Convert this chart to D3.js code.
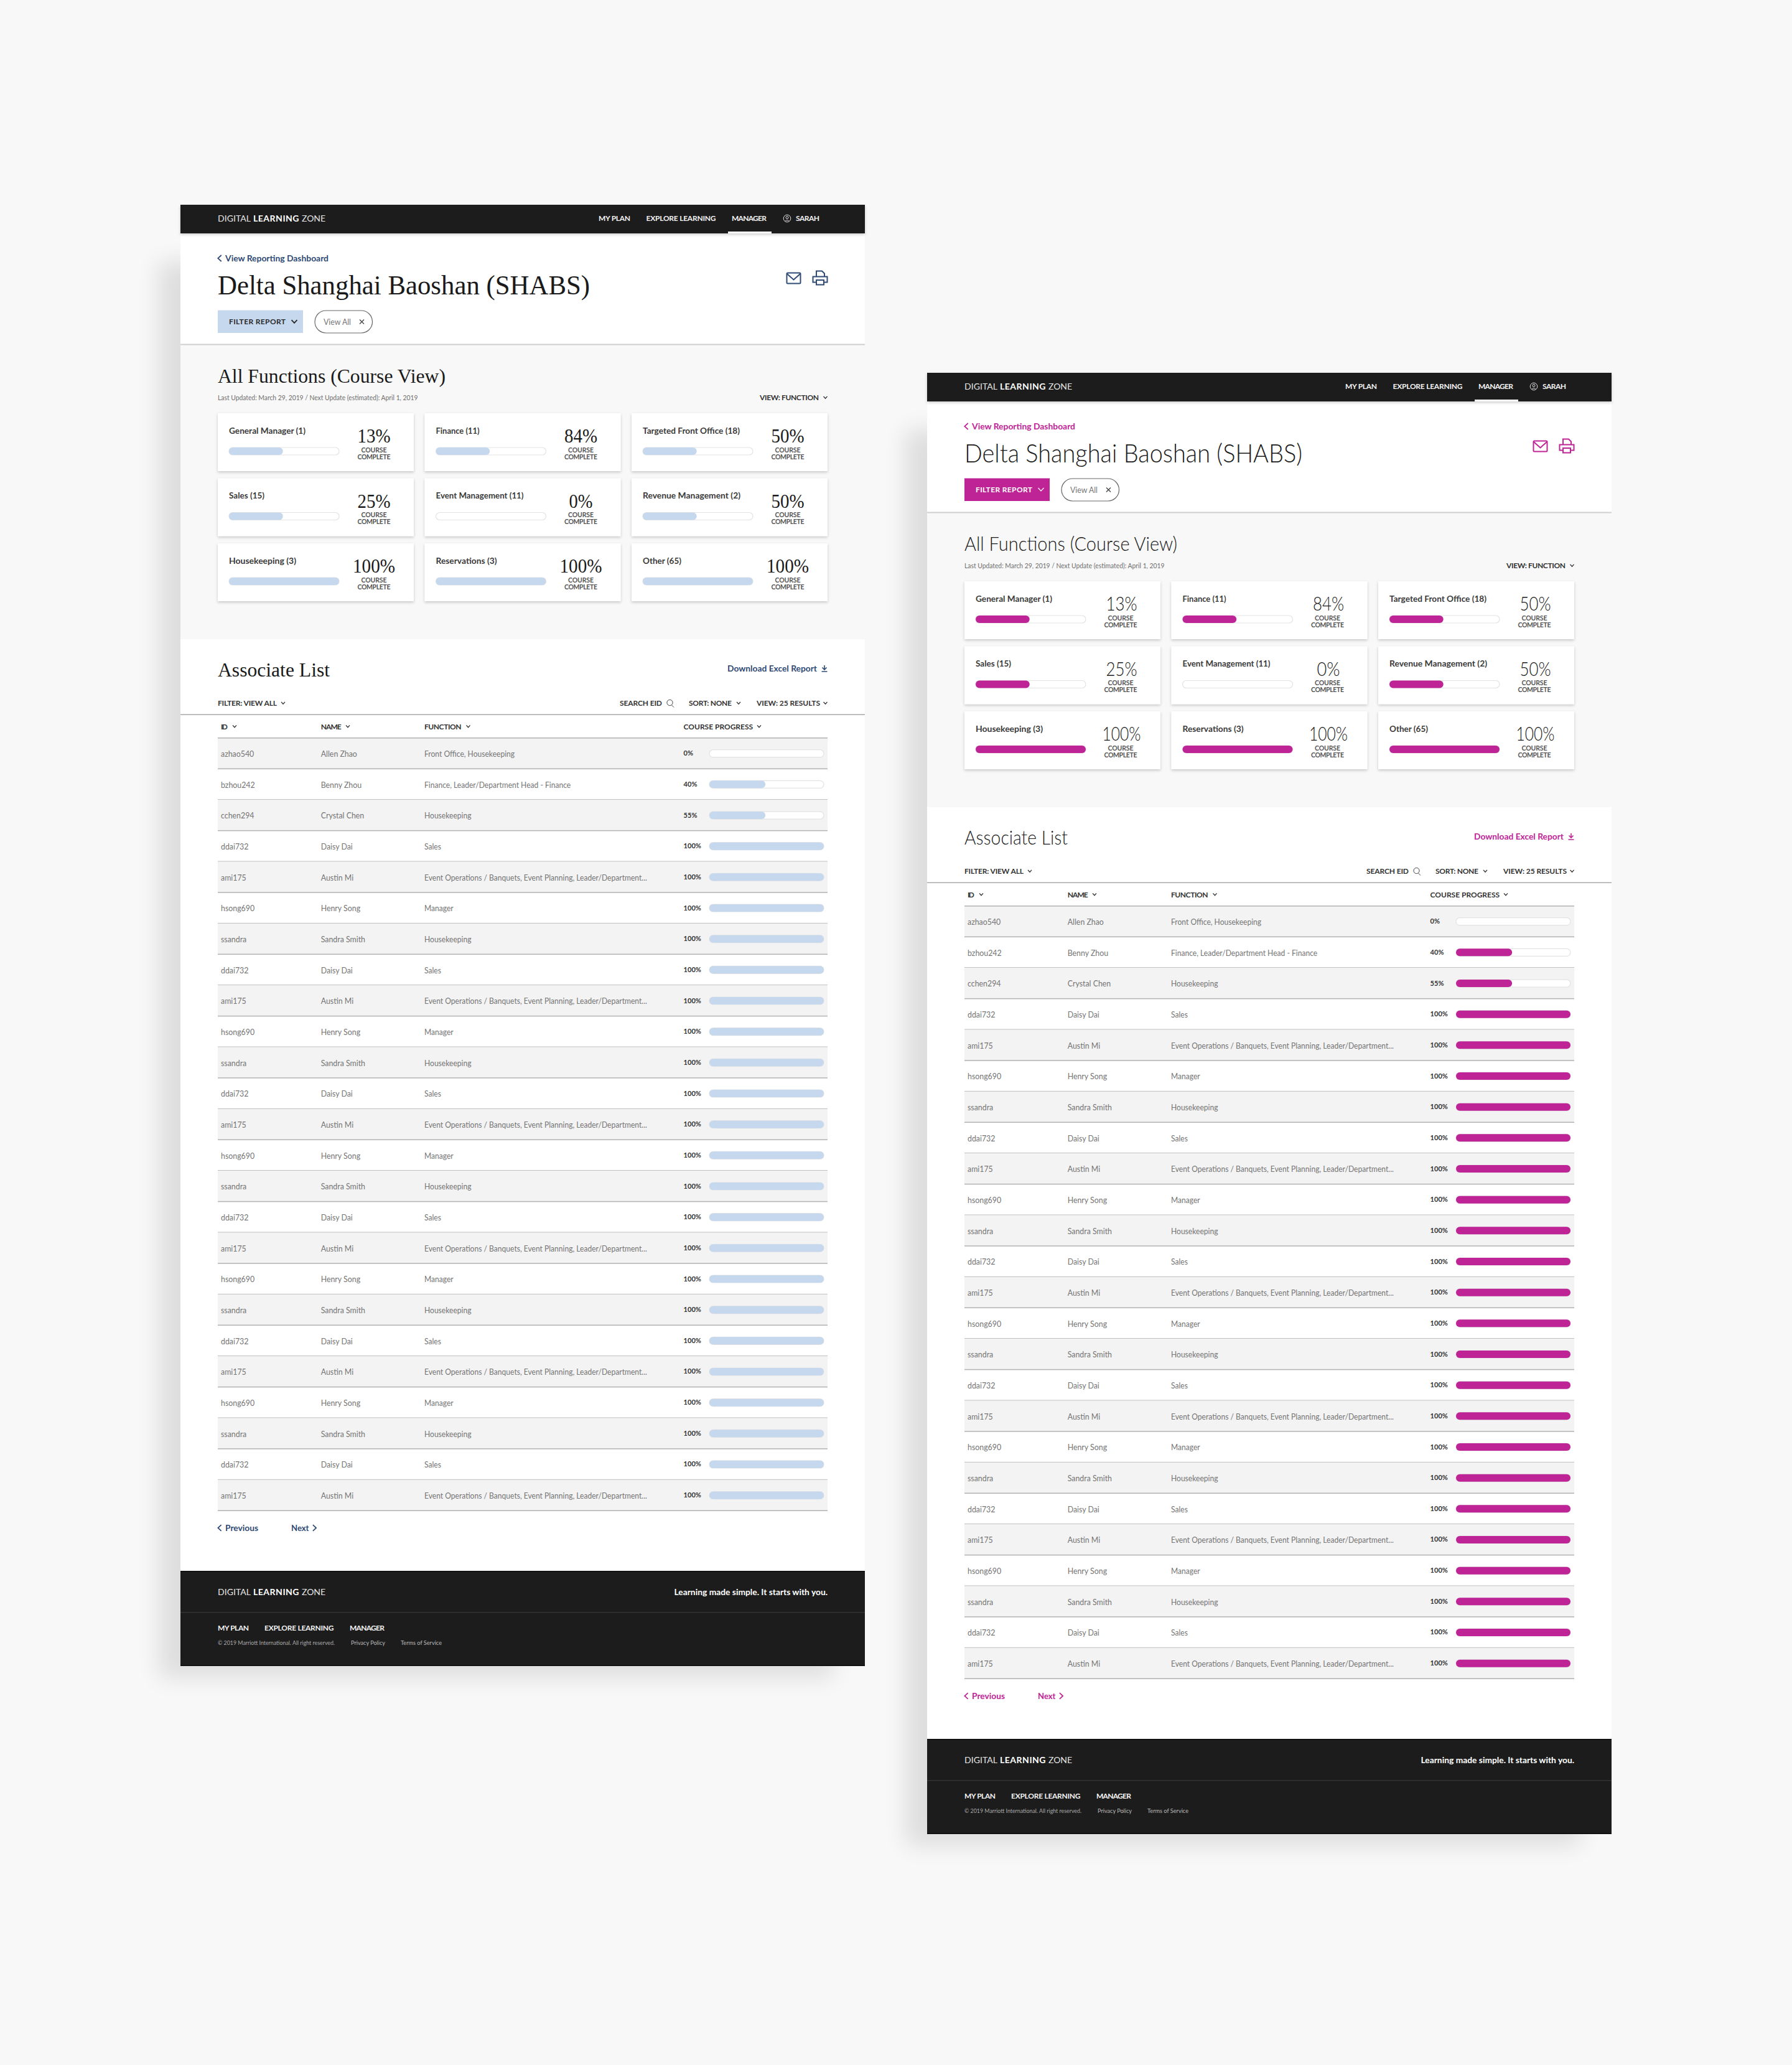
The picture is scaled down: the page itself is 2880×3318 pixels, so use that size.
<!DOCTYPE html>
<html><head><meta charset="utf-8">
<script src="https://cdn.jsdelivr.net/npm/d3@7"></script>
<style>html,body{margin:0;padding:0;background:#f8f8f8}svg{display:block}</style>
</head><body><div id="chart"></div>
<script>
const cardLabels = ["General Manager (1)","Finance (11)","Targeted Front Office (18)","Sales (15)","Event Management (11)","Revenue Management (2)","Housekeeping (3)","Reservations (3)","Other (65)"];
const cardPercents = [13,84,50,25,0,50,100,100,100];
const cardBarValues = [49,49,49,49,0,49,100,100,100];
const rowIds = ["azhao540","bzhou242","cchen294","ddai732","ami175","hsong690","ssandra","ddai732","ami175","hsong690","ssandra","ddai732","ami175","hsong690","ssandra","ddai732","ami175","hsong690","ssandra","ddai732","ami175","hsong690","ssandra","ddai732","ami175"];
const rowNames = ["Allen Zhao","Benny Zhou","Crystal Chen","Daisy Dai","Austin Mi","Henry Song","Sandra Smith","Daisy Dai","Austin Mi","Henry Song","Sandra Smith","Daisy Dai","Austin Mi","Henry Song","Sandra Smith","Daisy Dai","Austin Mi","Henry Song","Sandra Smith","Daisy Dai","Austin Mi","Henry Song","Sandra Smith","Daisy Dai","Austin Mi"];
const fnLong = "Event Operations / Banquets, Event Planning, Leader/Department...";
const rowFunctions = ["Front Office, Housekeeping","Finance, Leader/Department Head - Finance","Housekeeping","Sales",fnLong,"Manager","Housekeeping","Sales",fnLong,"Manager","Housekeeping","Sales",fnLong,"Manager","Housekeeping","Sales",fnLong,"Manager","Housekeeping","Sales",fnLong,"Manager","Housekeeping","Sales",fnLong];
const rowPercents = [0,40,55,100,100,100,100,100,100,100,100,100,100,100,100,100,100,100,100,100,100,100,100,100,100];
const rowBarValues = [0,49,49,100,100,100,100,100,100,100,100,100,100,100,100,100,100,100,100,100,100,100,100,100,100];
const navItems = ["MY PLAN","EXPLORE LEARNING","MANAGER","SARAH"];
const footerLinks = ["MY PLAN","EXPLORE LEARNING","MANAGER"];
const columnHeads = ["ID","NAME","FUNCTION","COURSE PROGRESS"];

const W=2880,H=3318,SANS="Lato, 'Open Sans', sans-serif",SERIF="'Liberation Serif', serif";
const svg=d3.select("#chart").append("svg").attr("width",W).attr("height",H).attr("viewBox",[0,0,W,H]);
svg.append("rect").attr("width",W).attr("height",H).attr("fill","#f8f8f8");
const defs=svg.append("defs");
defs.append("filter").attr("id","pshadow").attr("x","-20%").attr("y","-20%").attr("width","140%").attr("height","140%")
  .append("feGaussianBlur").attr("stdDeviation",18);
defs.append("filter").attr("id","cshadow").attr("x","-10%").attr("y","-10%").attr("width","120%").attr("height","130%")
  .append("feDropShadow").attr("dx",0).attr("dy",2).attr("stdDeviation",2.2).attr("flood-color","#000").attr("flood-opacity",.2);

function T(g,x,y,s,o={}){ // y is visual centre unless o.base
  const size=o.size||13;
  const t=g.append("text").attr("x",x).attr("y",o.base?y:y+size*0.35).text(s)
    .attr("font-family",o.font||SANS).attr("font-size",size).attr("font-weight",o.weight||400)
    .attr("fill",o.fill||"#222").attr("text-anchor",o.anchor||"start");
  if(o.w)t.attr("textLength",o.w).attr("lengthAdjust",s===s.toUpperCase()&&/[A-Z]/.test(s)?"spacing":"spacingAndGlyphs");
  if(o.k)t.attr("textLength",t.node().getComputedTextLength()*o.k).attr("lengthAdjust","spacingAndGlyphs");
  return t;
}
function chev(g,cx,cy,r,dir,color,sw){
  const p=d3.path(),a=r,b=r*0.55;
  if(dir==="down"){p.moveTo(cx-a,cy-b);p.lineTo(cx,cy+b);p.lineTo(cx+a,cy-b);}
  if(dir==="left"){p.moveTo(cx+b,cy-a);p.lineTo(cx-b,cy);p.lineTo(cx+b,cy+a);}
  if(dir==="right"){p.moveTo(cx-b,cy-a);p.lineTo(cx+b,cy);p.lineTo(cx-b,cy+a);}
  g.append("path").attr("d",p.toString()).attr("fill","none").attr("stroke",color).attr("stroke-width",sw||1.5);
}
function logo(g,y){
  T(g,350,y,"DIGITAL",{size:14,fill:"#e6e6e6",w:53,weight:400});
  T(g,407,y,"LEARNING",{size:14,fill:"#fff",w:73.5,weight:700});
  T(g,485,y,"ZONE",{size:14,fill:"#e6e6e6",w:38});
}
const cardX=d3.scaleBand().domain(d3.range(3)).range([350,1330]).paddingInner(17.5/332.5);
const cardY=d3.scaleBand().domain(d3.range(3)).range([664,966]).paddingInner(11.5/104.5);
const rowY=d3.scaleBand().domain(d3.range(rowIds.length)).range([1185.7,2427.3]);
const cardBar=d3.scaleLinear().domain([0,100]).range([0,177]);
const rowBar=d3.scaleLinear().domain([0,100]).range([0,184]);

function panel(dx,dy,th){
  const r=svg.append("g").attr("transform",`translate(${dx},${dy})`);
  // shadow
  r.append("rect").attr("x",255).attr("y",420).attr("width",1085).attr("height",2276).attr("fill","#000").attr("opacity",.1).attr("filter","url(#pshadow)");
  // panel backgrounds
  r.append("rect").attr("x",290).attr("y",329).attr("width",1100).attr("height",698).attr("fill","#f8f8f8");
  r.append("rect").attr("x",290).attr("y",375).attr("width",1100).attr("height",178).attr("fill","#fff");
  r.append("rect").attr("x",290).attr("y",552.5).attr("width",1100).attr("height",2).attr("fill","#cfcfcf");
  r.append("rect").attr("x",290).attr("y",1027).attr("width",1100).attr("height",1497).attr("fill","#fff");
  // nav
  r.append("rect").attr("x",290).attr("y",329).attr("width",1100).attr("height",46).attr("fill","#1c1c1c").attr("filter","url(#cshadow)");
  logo(r,351);
  const navX=[962,1038.5,1176,1279],navW=[51,112,56,38];
  navItems.forEach((s,i)=>T(r,navX[i],351,s,{size:12,weight:700,fill:"#f2f2f2",w:navW[i]}));
  r.append("rect").attr("x",1170).attr("y",372).attr("width",70).attr("height",3).attr("fill","#fff");
  r.append("circle").attr("cx",1265).attr("cy",351).attr("r",5.8).attr("fill","none").attr("stroke","#ddd").attr("stroke-width",1);
  r.append("circle").attr("cx",1265).attr("cy",349.5).attr("r",2).attr("fill","none").attr("stroke","#ddd").attr("stroke-width",1);
  r.append("path").attr("d","M1261.5,355.5q3.5,-3.5 7,0").attr("fill","none").attr("stroke","#ddd").attr("stroke-width",1);
  // back link
  chev(r,353,415,5,"left",th.accent,1.7);
  T(r,362,415,"View Reporting Dashboard",{size:13.5,weight:700,fill:th.accent,w:166});
  // title
  T(r,350,th.titleBase,"Delta Shanghai Baoshan (SHABS)",{size:th.titleSize,font:th.font,weight:th.hWeight,fill:"#1a1a1a",base:true,w:th.titleW});
  // mail icon
  r.append("rect").attr("x",1264.5).attr("y",438.5).attr("width",22).attr("height",17).attr("rx",1.5).attr("fill","none").attr("stroke",th.accent).attr("stroke-width",2);
  r.append("path").attr("d","M1265,440l10.5,9.5l10.5,-9.5").attr("fill","none").attr("stroke",th.accent).attr("stroke-width",2);
  // printer icon
  r.append("path").attr("d","M1312,444.5v-9h9l4,4v5").attr("fill","none").attr("stroke",th.accent).attr("stroke-width",2);
  r.append("path").attr("d","M1312,453.5h-5.500v-9h23v9h-5.500").attr("fill","none").attr("stroke",th.accent).attr("stroke-width",2);
  r.append("rect").attr("x",1312).attr("y",450).attr("width",12).attr("height",7.5).attr("fill","#fff").attr("stroke",th.accent).attr("stroke-width",2);
  // filter button
  r.append("rect").attr("x",350).attr("y",498.500).attr("width",137).attr("height",36.5).attr("fill",th.btn);
  T(r,368,517,"FILTER REPORT",{size:12,weight:700,fill:th.btnText,w:91});
  chev(r,473,516.500,4.5,"down",th.btnText,th.btnChevW);
  r.append("rect").attr("x",506).attr("y",499).attr("width",92.5).attr("height",36).attr("rx",18).attr("fill","#fff").attr("stroke","#666").attr("stroke-width",1.2);
  T(r,520,517,"View All",{size:13.5,fill:"#777",w:44});
  r.append("path").attr("d","M578,513.500l7,7m0,-7l-7,7").attr("stroke","#444").attr("stroke-width",1.3);
  // section 1
  T(r,350,614.5,"All Functions (Course View)",{size:32,font:th.font,weight:th.hWeight,fill:"#1a1a1a",base:true,w:th.allW});
  T(r,350,638.5,"Last Updated: March 29, 2019 / Next Update (estimated): April 1, 2019",{size:11.5,fill:"#6e6e6e",w:321.5});
  T(r,1221,639,"VIEW: FUNCTION",{size:12,weight:700,fill:"#333",w:95});
  chev(r,1326.5,638.5,3,"down","#333",1.4);
  // cards
  const cg=r.selectAll("g.card").data(cardLabels).join("g").attr("class","card")
    .attr("transform",(d,i)=>`translate(${cardX(i%3)},${cardY(Math.floor(i/3))})`);
  cg.append("rect").attr("width",cardX.bandwidth()).attr("height",cardY.bandwidth()).attr("fill","#fff").attr("filter","url(#cshadow)");
  cg.each(function(d,i){
    const c=d3.select(this);
    const lw=[123,70,156,57,141,157,108,98,62][i];
    T(c,18,28,d,{size:13.5,weight:700,fill:"#3a3a3a",w:lw});
    c.append("rect").attr("x",18).attr("y",55).attr("width",cardBar(100)).attr("height",12).attr("rx",6).attr("fill","#fff").attr("stroke","#e3e3e3").attr("stroke-width",1.2);
    if(cardBarValues[i]>0)c.append("rect").attr("x",18).attr("y",55).attr("width",cardBar(cardBarValues[i])).attr("height",12).attr("rx",th.rad).attr("fill",th.bar);
    const ps=cardPercents[i]+"%",n=ps.length;
    T(c,251+(th.pctDx||0),47,ps,{size:th.pctSize,font:th.font,weight:th.hWeight,fill:"#1a1a1a",anchor:"middle",base:true,w:th.pctW[n]});
    T(c,251,59,"COURSE",{size:10.5,weight:700,fill:"#555",anchor:"middle",w:41});
    T(c,251,70,"COMPLETE",{size:10.5,weight:700,fill:"#555",anchor:"middle",w:53});
  });
  // section 2
  T(r,350,1086.5,"Associate List",{size:32,font:th.font,weight:th.hWeight,fill:"#1a1a1a",base:true,w:th.assocW});
  T(r,1169,1074,"Download Excel Report",{size:13.5,weight:700,fill:th.accent,w:144});
  r.append("path").attr("d","M1325,1069v7m-3.500,-3.500l3.500,3.500l3.500,-3.500M1320.500,1079h9").attr("fill","none").attr("stroke",th.accent).attr("stroke-width",1.6);
  T(r,350,1130,"FILTER: VIEW ALL",{size:12,weight:700,fill:"#333",w:95});
  chev(r,455,1129.5,3,"down","#333",1.4);
  T(r,996,1130,"SEARCH EID",{size:12,weight:700,fill:"#333",w:68});
  r.append("circle").attr("cx",1076.5).attr("cy",1129).attr("r",4.6).attr("fill","none").attr("stroke","#444").attr("stroke-width",1);
  r.append("path").attr("d","M1079.500,1133l3.500,3.500").attr("stroke","#444").attr("stroke-width",1);
  T(r,1107,1130,"SORT: NONE",{size:12,weight:700,fill:"#333",w:69});
  chev(r,1187,1129.5,3,"down","#333",1.4);
  T(r,1216,1130,"VIEW: 25 RESULTS",{size:12,weight:700,fill:"#333",w:102});
  chev(r,1326.5,1129.5,3,"down","#333",1.4);
  r.append("rect").attr("x",290).attr("y",1147.5).attr("width",1100).attr("height",1.5).attr("fill","#ababab");
  const headX=[355,515.7,682,1098.6],headW=[11,33,59.5,111.5],headC=[377,559,752.5,1220];
  columnHeads.forEach((s,i)=>{T(r,headX[i],1168,s,{size:12,weight:700,fill:"#333",w:headW[i]});chev(r,headC[i],1167,3,"down","#333",1.4);});
  // rows
  const rg=r.selectAll("g.row").data(rowIds).join("g").attr("class","row").attr("transform",(d,i)=>`translate(350,${rowY(i)})`);
  rg.filter((d,i)=>i%2===0).append("rect").attr("width",980).attr("height",rowY.bandwidth()).attr("fill","#f3f3f3");
  rg.append("rect").attr("y",rowY.bandwidth()-.8).attr("width",980).attr("height",1.5).attr("fill","#b2b2b2");
  rg.each(function(d,i){
    const c=d3.select(this),h=25.5;
    T(c,5,h,rowIds[i],{size:13.5,fill:"#757575",k:.915});
    T(c,165.7,h,rowNames[i],{size:13.5,fill:"#757575",k:.915});
    T(c,332,h,rowFunctions[i],{size:13.5,fill:"#757575",k:.895});
    T(c,748.6,24.5,rowPercents[i]+"%",{size:11.5,weight:700,fill:"#333",k:.96});
    c.append("rect").attr("x",790).attr("y",19).attr("width",rowBar(100)).attr("height",12).attr("rx",6).attr("fill","#fff").attr("stroke","#e3e3e3").attr("stroke-width",1.2);
    if(rowBarValues[i]>0)c.append("rect").attr("x",790).attr("y",19).attr("width",rowBar(rowBarValues[i])).attr("height",12).attr("rx",th.rad).attr("fill",th.bar);
  });
  r.append("rect").attr("x",350).attr("y",1185).attr("width",980).attr("height",1.5).attr("fill","#b2b2b2");
  // pagination
  chev(r,353,2455,4.8,"left",th.accent,1.7);
  T(r,362,2455,"Previous",{size:14,weight:700,fill:th.accent,w:53});
  T(r,468,2455,"Next",{size:14,weight:700,fill:th.accent,w:28.5});
  chev(r,505.5,2455,4.8,"right",th.accent,1.7);
  // footer
  r.append("rect").attr("x",290).attr("y",2524).attr("width",1100).attr("height",153).attr("fill","#1c1c1c");
  r.append("rect").attr("x",290).attr("y",2524).attr("width",1100).attr("height",1.5).attr("fill","#0c0c0c");
  r.append("rect").attr("x",290).attr("y",2675.5).attr("width",1100).attr("height",1.5).attr("fill","#0c0c0c");
  logo(r,2557.7);
  T(r,1330,2558,"Learning made simple. It starts with you.",{size:13.5,weight:700,fill:"#fff",anchor:"end",w:246.5});
  r.append("rect").attr("x",290).attr("y",2590).attr("width",1100).attr("height",1.5).attr("fill","#333");
  const fx=[350,425,562],fw=[50,111.5,56];
  footerLinks.forEach((s,i)=>T(r,fx[i],2616,s,{size:12,weight:700,fill:"#f2f2f2",w:fw[i]}));
  T(r,350,2640,"© 2019 Marriott International. All right reserved.",{size:9.5,fill:"#aaa",w:188});
  T(r,564,2640,"Privacy Policy",{size:9.5,fill:"#bbb",w:55});
  T(r,644,2640,"Terms of Service",{size:9.5,fill:"#bbb",w:66});
}
panel(0,0,{accent:"#2f4a75",btn:"#c6d8ee",btnText:"#2b2b2b",btnChevW:1.8,bar:"#c6d8ee",font:SERIF,hWeight:400,titleSize:44,titleBase:473,titleW:598,allW:366,assocW:180,pctSize:31,pctW:{2:38,3:53,4:68},rad:6});
panel(1200,270,{accent:"#bf2496",btn:"#bf2496",btnText:"#fff",btnChevW:1.2,bar:"#bf2496",font:SANS,hWeight:300,titleSize:42,titleBase:473,titleW:543,allW:342,assocW:166,pctSize:31,pctDx:1.5,pctW:{2:37,3:50,4:62},rad:6});
</script></body></html>
